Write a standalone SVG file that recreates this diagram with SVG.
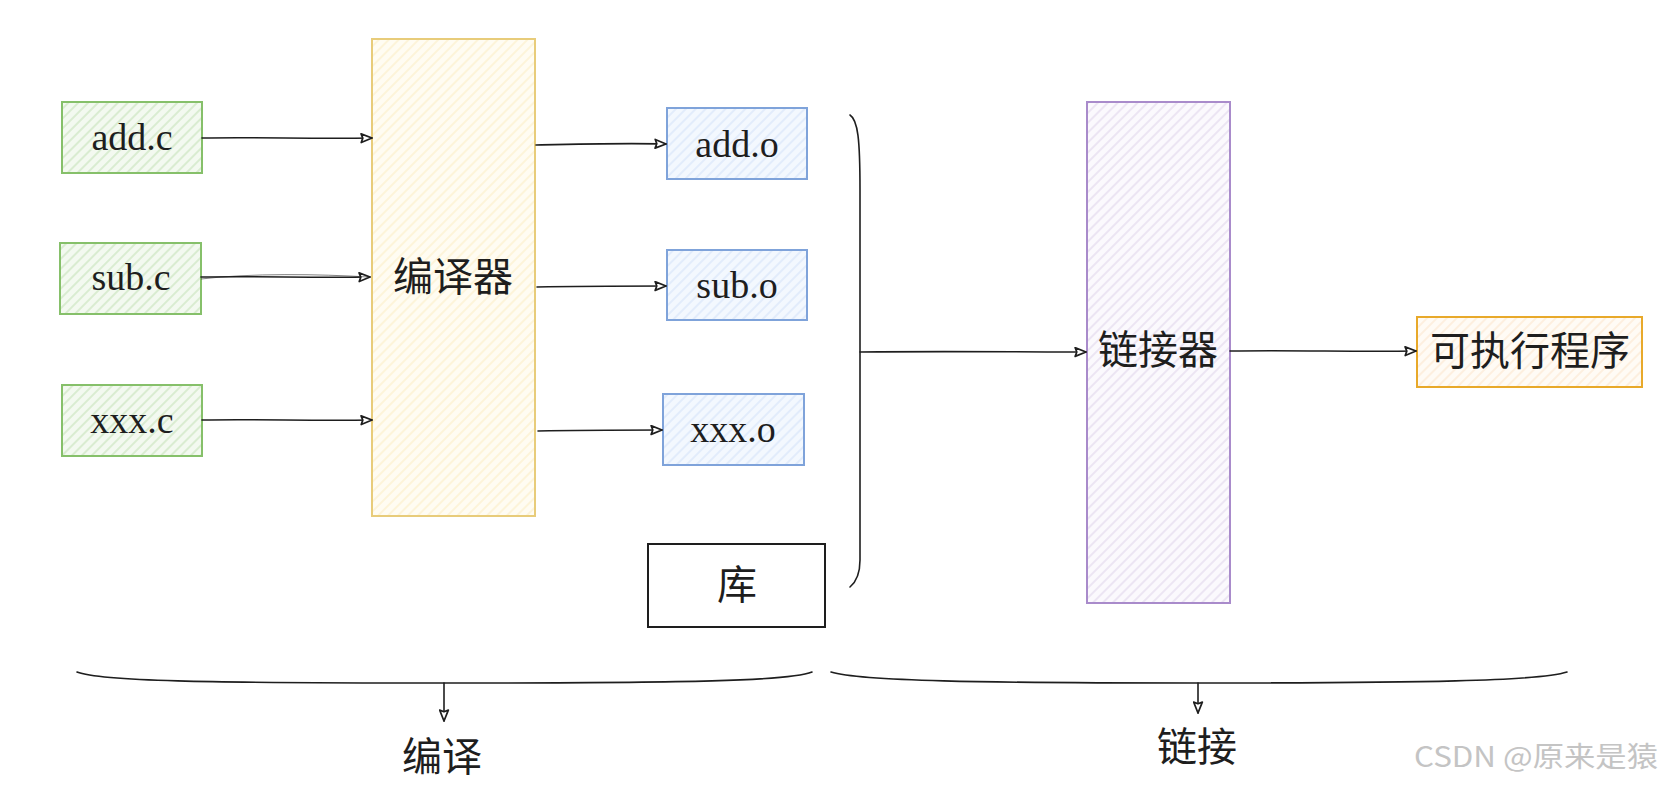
<svg xmlns="http://www.w3.org/2000/svg" width="1667" height="787" viewBox="0 0 1667 787">
<style>
.fn{font-family:"Liberation Serif","DejaVu Serif",serif;font-size:38px;fill:#1e1e1e;text-anchor:middle}
.cjk{font-family:"Noto Sans CJK SC","Noto Sans",sans-serif;font-size:40px;fill:#1e1e1e;text-anchor:middle}
.wm{font-family:"Noto Sans CJK SC","Liberation Sans",sans-serif;font-size:28px;fill:#c4c4c4;text-anchor:start}
.conn{fill:none;stroke:#1e1e1e;stroke-width:1.6;stroke-linecap:round}
.conn2{fill:none;stroke:#1e1e1e;stroke-width:1;opacity:0.55}
.green{stroke:#86c06a;stroke-width:2;fill:url(#hGreen)}
.yellow{stroke:#e8cc7a;stroke-width:2;fill:url(#hYellow)}
.blue{stroke:#7fa3da;stroke-width:2;fill:url(#hBlue)}
.purple{stroke:#a98bcb;stroke-width:2;fill:url(#hPurple)}
.orange{stroke:#e8a92a;stroke-width:2;fill:url(#hOrange)}
.plain{stroke:#1e1e1e;stroke-width:2;fill:#fff}
</style>
<defs>
<pattern id="hGreen" patternUnits="userSpaceOnUse" width="7" height="7" patternTransform="rotate(45)"><rect width="7" height="7" fill="#f3f9f0"/><line x1="2" y1="0" x2="2" y2="7" stroke="#cfe7c4" stroke-width="1.4"/></pattern>
<pattern id="hYellow" patternUnits="userSpaceOnUse" width="7" height="7" patternTransform="rotate(45)"><rect width="7" height="7" fill="#fffcf2"/><line x1="2" y1="0" x2="2" y2="7" stroke="#fdf1cf" stroke-width="1.4"/></pattern>
<pattern id="hBlue" patternUnits="userSpaceOnUse" width="7" height="7" patternTransform="rotate(45)"><rect width="7" height="7" fill="#f3f8fe"/><line x1="2" y1="0" x2="2" y2="7" stroke="#dbe8fb" stroke-width="1.4"/></pattern>
<pattern id="hPurple" patternUnits="userSpaceOnUse" width="7" height="7" patternTransform="rotate(45)"><rect width="7" height="7" fill="#fbf9fd"/><line x1="2" y1="0" x2="2" y2="7" stroke="#e6ddf0" stroke-width="1.4"/></pattern>
<pattern id="hOrange" patternUnits="userSpaceOnUse" width="7" height="7" patternTransform="rotate(45)"><rect width="7" height="7" fill="#fffbf5"/><line x1="2" y1="0" x2="2" y2="7" stroke="#fdebd6" stroke-width="1.4"/></pattern>
<marker id="arr" viewBox="0 0 12 10" refX="11" refY="5" markerWidth="13" markerHeight="11" markerUnits="userSpaceOnUse" orient="auto">
<path d="M1,1 L11,5 L1,9 L2.5,5 Z" fill="#fff" stroke="#1e1e1e" stroke-width="1.6" stroke-linejoin="round"/>
</marker>
</defs>
<rect width="1667" height="787" fill="#fff"/>

<g id="add_c"><rect class="green" x="62" y="102" width="140" height="71"/><text class="fn" x="132" y="150">add.c</text></g>
<g id="sub_c"><rect class="green" x="60" y="243" width="141" height="71"/><text class="fn" x="131" y="290">sub.c</text></g>
<g id="xxx_c"><rect class="green" x="62" y="385" width="140" height="71"/><text class="fn" x="132" y="433">xxx.c</text></g>

<g id="compiler"><rect class="yellow" x="372" y="39" width="163" height="477"/><text class="cjk" x="453" y="291">编译器</text></g>

<g id="add_o"><rect class="blue" x="667" y="108" width="140" height="71"/><text class="fn" x="737" y="157">add.o</text></g>
<g id="sub_o"><rect class="blue" x="667" y="250" width="140" height="70"/><text class="fn" x="737" y="298">sub.o</text></g>
<g id="xxx_o"><rect class="blue" x="663" y="394" width="141" height="71"/><text class="fn" x="733" y="442">xxx.o</text></g>

<g id="lib"><rect class="plain" x="648" y="544" width="177" height="83"/><text class="cjk" x="737" y="599">库</text></g>

<g id="linker"><rect class="purple" x="1087" y="102" width="143" height="501"/><text class="cjk" x="1158" y="364">链接器</text></g>

<g id="exe"><rect class="orange" x="1417" y="317" width="225" height="70"/><text class="cjk" x="1530" y="365">可执行程序</text></g>

<g id="connectors">
<path class="conn" d="M202,138 C260,137 310,139 372,138" marker-end="url(#arr)"/>
<path class="conn" d="M201,277 C260,276 310,278 370,277" marker-end="url(#arr)"/>
<path class="conn2" d="M201,279 C250,273 320,274 368,277"/>
<path class="conn" d="M202,420 C260,419 310,421 372,420" marker-end="url(#arr)"/>
<path class="conn" d="M536,145 C580,144 620,143 666,144" marker-end="url(#arr)"/>
<path class="conn" d="M537,287 C580,286 620,286 666,286" marker-end="url(#arr)"/>
<path class="conn" d="M538,431 C580,430 620,430 662,430" marker-end="url(#arr)"/>
<path class="conn" d="M850,115 C858,120 860,140 860,190 L860,560 C860,575 856,582 850,587"/>
<path class="conn" d="M860,352 C950,351 1010,352 1086,352" marker-end="url(#arr)"/>
<path class="conn" d="M1230,351 C1300,350 1350,352 1416,351" marker-end="url(#arr)"/>
<path class="conn" d="M77,672 C100,681 200,683 444,683 C690,683 790,681 812,672"/>
<path class="conn" d="M444,683 L444,721" marker-end="url(#arr)"/>
<path class="conn" d="M831,672 C860,681 980,683 1198,683 C1420,683 1540,681 1567,672"/>
<path class="conn" d="M1198,683 L1198,713" marker-end="url(#arr)"/>
</g>

<g id="labels">
<text class="cjk" x="442" y="771">编译</text>
<text class="cjk" x="1197" y="761">链接</text>
<text class="wm" x="1414" y="767" textLength="244" lengthAdjust="spacingAndGlyphs">CSDN @原来是猿</text>
</g>
</svg>
